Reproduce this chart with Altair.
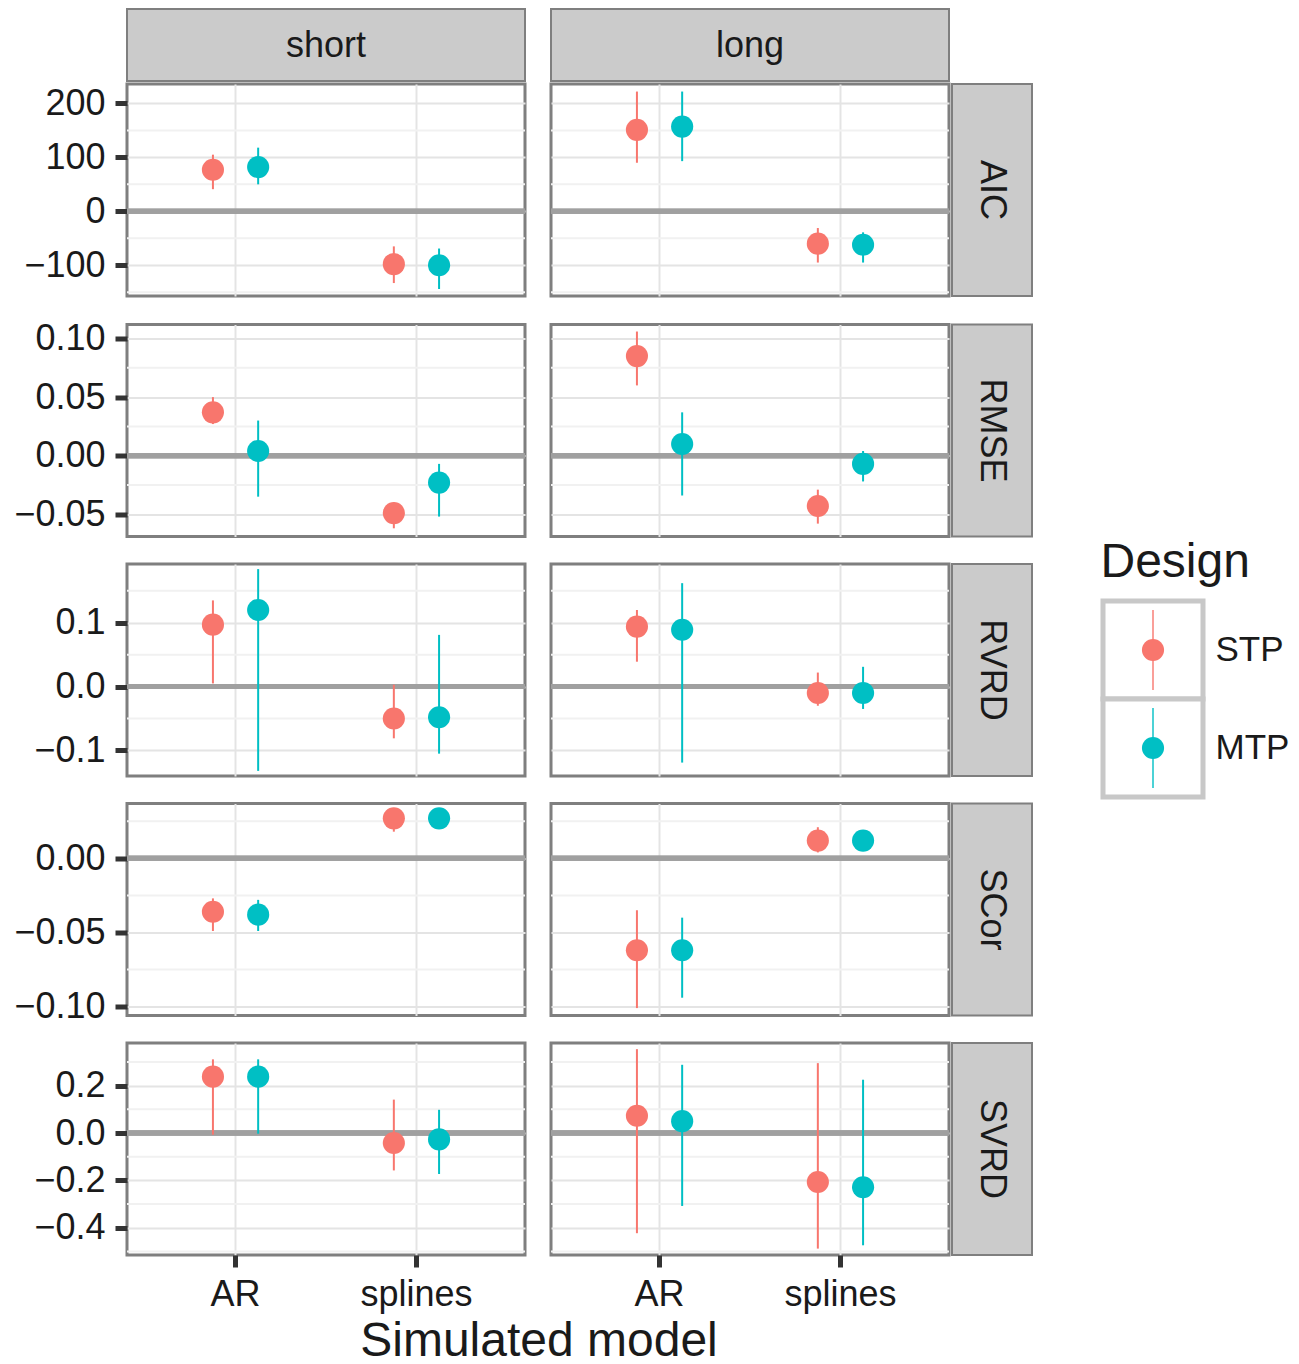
import altair as alt
import pandas as pd

# ---------------- data ----------------
metrics = ["AIC", "RMSE", "RVRD", "SCor", "SVRD"]
horizons = ["short", "long"]
models = ["AR", "splines"]
designs = ["STP", "MTP"]
design_colors = ["#F8766D", "#00BFC4"]
x_title = "Simulated model"
legend_title = "Design"

# order of the 8 values: short-AR-STP, short-AR-MTP, short-splines-STP, short-splines-MTP,
#                        long-AR-STP,  long-AR-MTP,  long-splines-STP,  long-splines-MTP
aic_est = [77, 82, -98, -100, 151, 157, -60, -62]
aic_lo = [41, 50, -133, -144, 90, 93, -95, -95]
aic_hi = [105, 118, -65, -69, 222, 222, -31, -39]

rmse_est = [0.037, 0.004, -0.049, -0.023, 0.085, 0.010, -0.043, -0.007]
rmse_lo = [0.027, -0.035, -0.062, -0.052, 0.060, -0.034, -0.058, -0.022]
rmse_hi = [0.050, 0.030, -0.040, -0.007, 0.106, 0.037, -0.029, 0.004]

rvrd_est = [0.097, 0.120, -0.050, -0.048, 0.094, 0.089, -0.010, -0.010]
rvrd_lo = [0.005, -0.132, -0.081, -0.105, 0.039, -0.119, -0.030, -0.035]
rvrd_hi = [0.135, 0.184, 0.003, 0.081, 0.120, 0.162, 0.022, 0.031]

scor_est = [-0.036, -0.038, 0.027, 0.027, -0.062, -0.062, 0.012, 0.012]
scor_lo = [-0.049, -0.049, 0.018, 0.022, -0.101, -0.094, 0.004, 0.007]
scor_hi = [-0.027, -0.028, 0.032, 0.031, -0.035, -0.040, 0.021, 0.017]

svrd_est = [0.238, 0.238, -0.042, -0.027, 0.073, 0.050, -0.207, -0.229]
svrd_lo = [-0.007, -0.003, -0.158, -0.173, -0.423, -0.308, -0.488, -0.474]
svrd_hi = [0.311, 0.311, 0.141, 0.098, 0.354, 0.288, 0.295, 0.225]

# y-axis settings per facet row (free y scales)
y_domain = {"AIC": [-157, 236], "RMSE": [-0.069, 0.112], "RVRD": [-0.140, 0.192],
            "SCor": [-0.106, 0.037], "SVRD": [-0.515, 0.38]}
major_ticks = {"AIC": [-100, 0, 100, 200], "RMSE": [-0.05, 0.0, 0.05, 0.10],
               "RVRD": [-0.1, 0.0, 0.1], "SCor": [-0.10, -0.05, 0.0],
               "SVRD": [-0.4, -0.2, 0.0, 0.2]}
minor_ticks = {"AIC": [-150, -50, 50, 150], "RMSE": [-0.025, 0.025, 0.075],
               "RVRD": [-0.05, 0.05, 0.15], "SCor": [-0.075, -0.025, 0.025],
               "SVRD": [-0.5, -0.3, -0.1, 0.1, 0.3]}
tick_format = {"AIC": "d", "RMSE": ".2f", "RVRD": ".1f", "SCor": ".2f", "SVRD": ".1f"}

series = {
    "AIC": (aic_est, aic_lo, aic_hi),
    "RMSE": (rmse_est, rmse_lo, rmse_hi),
    "RVRD": (rvrd_est, rvrd_lo, rvrd_hi),
    "SCor": (scor_est, scor_lo, scor_hi),
    "SVRD": (svrd_est, svrd_lo, svrd_hi),
}

records = []
for metric in metrics:
    e, lo, hi = series[metric]
    k = 0
    for h in horizons:
        for m in models:
            for d in designs:
                records.append(dict(Metric=metric, Horizon=h, Model=m, Design=d,
                                    est=e[k], lo=lo[k], hi=hi[k]))
                k += 1
df = pd.DataFrame(records)

# ---------------- layout constants ----------------
W = 398
H = 212
E = 113                                  # reserved width of the left y axes
COL_GAP = 22
ROW_GAPS = [20.5, 23.5, 23.5, 14.5]      # compensate label overflow between rows
STRIP_H = 72
STRIP_W = 80
FONT = "Liberation Sans"
TXT = "#1a1a1a"
GRID_MAJOR = "#e4e4e4"
GRID_MINOR = "#f1f1f1"
TICK_FS = 36

color_scale = alt.Scale(domain=designs, range=design_colors)
blank_view = alt.ViewBackground(stroke="transparent", fill="transparent", strokeWidth=0)


def panel(metric, horizon, left, bottom):
    sub = df[(df.Metric == metric) & (df.Horizon == horizon)]
    base = alt.Chart(sub)
    fmt = tick_format[metric]
    yscale = alt.Scale(domain=y_domain[metric], nice=False, zero=False)
    ykw = dict(values=major_ticks[metric], title=None, domain=False, grid=True,
               gridColor=GRID_MAJOR, gridWidth=2)
    if left:
        yaxis = alt.Axis(
            labels=True, ticks=True,
            labelExpr=f"replace(format(datum.value, '{fmt}'), '-', '\u2212')",
            tickColor="#333333", tickSize=12, tickWidth=5,
            labelFontSize=TICK_FS, labelPadding=10, labelColor=TXT,
            labelOverlap=False, labelFlush=False,
            minExtent=E, maxExtent=E, **ykw)
    else:
        yaxis = alt.Axis(labels=False, ticks=False, minExtent=0, maxExtent=0, **ykw)

    xscale = alt.Scale(domain=models, paddingInner=0.5, paddingOuter=0.35)
    xkw = dict(title=None, domain=False, grid=True, gridColor=GRID_MAJOR, gridWidth=2,
               bandPosition=0.5)
    if bottom:
        xaxis = alt.Axis(labels=True, ticks=True, labelAngle=0, labelFontSize=TICK_FS,
                         labelPadding=10, labelColor=TXT, tickSize=12, tickWidth=5,
                         tickColor="#333333", labelFlush=False, **xkw)
    else:
        xaxis = alt.Axis(labels=False, ticks=False, minExtent=0, maxExtent=0, **xkw)

    x_enc = alt.X("Model:N", sort=models, scale=xscale, axis=xaxis)
    xo_enc = alt.XOffset("Design:N", sort=designs,
                         scale=alt.Scale(domain=designs, paddingInner=0, paddingOuter=0))
    c_enc = alt.Color("Design:N", scale=color_scale, legend=None)

    minor = alt.Chart(pd.DataFrame({"v": minor_ticks[metric]})).mark_rule(
        color=GRID_MINOR, strokeWidth=2, clip=True
    ).encode(y=alt.Y("v:Q", scale=yscale, axis=yaxis))
    zero = base.mark_rule(color="#a0a0a0", strokeWidth=5, clip=True).encode(
        y=alt.datum(0, scale=yscale, axis=yaxis)
    )
    bars = base.mark_rule(strokeWidth=2).encode(
        x=x_enc, xOffset=xo_enc,
        y=alt.Y("lo:Q", scale=yscale, axis=yaxis), y2="hi:Q", color=c_enc,
    )
    pts = base.mark_circle(size=490, opacity=1).encode(
        x=x_enc, xOffset=xo_enc, y=alt.Y("est:Q", scale=yscale, axis=yaxis), color=c_enc,
    )
    return alt.layer(minor, zero, bars, pts).properties(width=W, height=H)


strip_view = alt.ViewBackground(fill="#cbcbcb", stroke="#7f7f7f", strokeWidth=2)


def top_strip(label):
    return alt.Chart(pd.DataFrame({"label": [label]})).mark_text(
        fontSize=TICK_FS, color=TXT, baseline="middle", align="center"
    ).encode(
        text="label:N", x=alt.value(W / 2), y=alt.value(STRIP_H / 2 + 1)
    ).properties(width=W, height=STRIP_H, view=strip_view)


def right_strip(label):
    return alt.Chart(pd.DataFrame({"label": [label]})).mark_text(
        fontSize=TICK_FS, color=TXT, baseline="middle", align="center", angle=90
    ).encode(
        text="label:N", x=alt.value(STRIP_W / 2), y=alt.value(H / 2)
    ).properties(width=STRIP_W, height=H, view=strip_view)


def spacer(w, h):
    return alt.Chart(pd.DataFrame({"t": [""]})).mark_text().encode(
        text="t:N", x=alt.value(w / 2), y=alt.value(h / 2)
    ).properties(width=w, height=h, view=blank_view)


rows = []
for i, metric in enumerate(metrics):
    bottom = i == len(metrics) - 1
    pair = alt.hconcat(panel(metric, "short", True, bottom),
                       panel(metric, "long", False, bottom),
                       spacing=COL_GAP)
    rows.append(alt.hconcat(pair, right_strip(metric), spacing=0))

# chain the rows so each gap can be tuned
stack = rows[-1]
for i in range(len(rows) - 2, -1, -1):
    stack = alt.vconcat(rows[i], stack, spacing=ROW_GAPS[i])

strip_row = alt.hconcat(*[top_strip(h) for h in horizons], spacing=24)

title_w = 2 * W + 28
title_chart = alt.Chart(pd.DataFrame({"t": [x_title]})).mark_text(
    fontSize=48, color=TXT, baseline="middle", align="center"
).encode(
    text="t:N", x=alt.value(title_w / 2), y=alt.value(28)
).properties(width=title_w, height=46, view=blank_view)

grid = alt.vconcat(strip_row, stack, title_chart, spacing=0)

# ---------------- legend ----------------
leg_df = pd.DataFrame({"Design": designs})
yband_scale = alt.Scale(domain=designs, paddingInner=0, paddingOuter=0)
boxes = alt.Chart(leg_df).mark_rect(fill="white", stroke="#c8c8c8", strokeWidth=5).encode(
    y=alt.Y("Design:N", sort=designs, scale=yband_scale,
            axis=alt.Axis(orient="right", title=None, ticks=False, domain=False, grid=False,
                          labelFontSize=35, labelPadding=12, labelColor=TXT)),
    x=alt.value(0), x2=alt.value(100),
)
lines = alt.Chart(leg_df).mark_tick(orient="vertical", thickness=2, size=80).encode(
    y=alt.Y("Design:N", sort=designs, scale=yband_scale),
    x=alt.value(50), color=alt.Color("Design:N", scale=color_scale, legend=None),
)
dots = alt.Chart(leg_df).mark_circle(size=490, opacity=1).encode(
    y=alt.Y("Design:N", sort=designs, scale=yband_scale),
    x=alt.value(50), color=alt.Color("Design:N", scale=color_scale, legend=None),
)
legend_chart = alt.layer(boxes, lines, dots).properties(
    width=100, height=196,
    title=alt.TitleParams(legend_title, fontSize=48, fontWeight="normal", color=TXT,
                          anchor="start", offset=12),
    view=blank_view,
)
legend_col = alt.vconcat(spacer(100, 529), legend_chart, spacing=0)

chart = alt.hconcat(grid, legend_col, spacing=67).properties(
    padding={"left": 4, "top": 0, "right": 0, "bottom": 0}
).configure(
    font=FONT
).configure_view(
    stroke="#7f7f7f", strokeWidth=3, fill="white"
).configure_title(
    font=FONT
)

chart.save("out.html", embed_options={"renderer": "svg", "actions": False})
